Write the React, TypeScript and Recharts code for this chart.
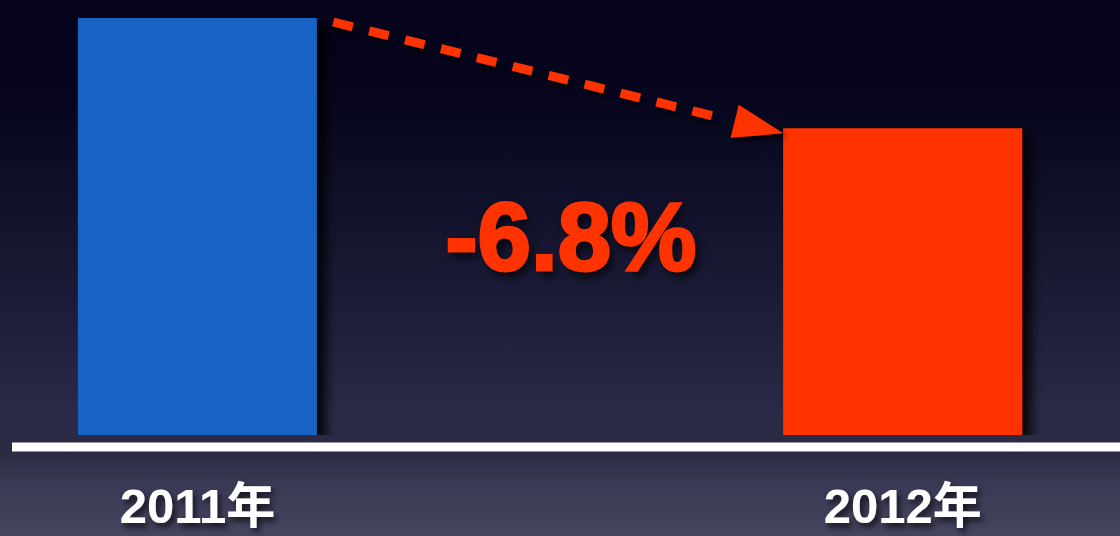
import React from 'react';
import { BarChart, Bar, Cell, XAxis, YAxis, ReferenceLine } from 'recharts';

// values; the axis is truncated, bars start at AXIS_BASE
const YEARS = ['2011年', '2012年'];
const POSITIONS = [1, 2];
const VALUES = [100, 93.2];
const COLORS = ['#1463c3', '#ff3300'];
const AXIS_BASE = 74.3;

const WIDTH = 1120;
const HEIGHT = 536;
const X_DOMAIN: [number, number] = [0.737, 2.308];

const data = YEARS.map((year, i) => ({ year, x: POSITIONS[i], value: VALUES[i] }));

const change = ((VALUES[1] - VALUES[0]) / VALUES[0]) * 100;
const changeLabel = `${change.toFixed(1)}%`;

const FONT = '"Liberation Sans", Arial, "Noto Sans CJK JP", sans-serif';

function YearTick(props: any) {
  const { x, y, payload } = props;
  const idx = POSITIONS.indexOf(payload.value);
  return (
    <text
      x={x}
      y={y + 80}
      textAnchor="middle"
      fill="#ffffff"
      fontSize={49}
      fontWeight={700}
      fontFamily={FONT}
      filter="url(#textShadow)"
    >
      {YEARS[idx] ?? ''}
    </text>
  );
}

// white floor line, sits a bit under the bar bottoms and runs to the right edge
function Floor(props: any) {
  const { x1, y1 } = props;
  const y = y1 + 12;
  return <line x1={x1} y1={y} x2={WIDTH} y2={y} stroke="#ffffff" strokeWidth={9} />;
}

function DropArrow(props: any) {
  const { x1, y1, x2, y2 } = props;
  const sx = x1;
  const sy = y1 + 4;
  const ex = x2;
  const ey = y2 + 5;
  const len = Math.hypot(ex - sx, ey - sy);
  const ux = (ex - sx) / len;
  const uy = (ey - sy) / len;
  const head = 50;
  const half = 17;
  const bx = ex - ux * head;
  const by = ey - uy * head;
  const pts = [
    `${ex},${ey}`,
    `${bx - uy * half},${by + ux * half}`,
    `${bx + uy * half},${by - ux * half}`,
  ].join(' ');
  return (
    <g filter="url(#textShadow)">
      <line
        x1={sx}
        y1={sy}
        x2={bx - ux * 16}
        y2={by - uy * 16}
        stroke="#ff3300"
        strokeWidth={9}
        strokeDasharray="20 17"
      />
      <polygon points={pts} fill="#ff3300" />
    </g>
  );
}

export default function App() {
  const halfBar = 119.5 / 705;
  return (
    <div
      style={{
        position: 'relative',
        width: WIDTH,
        height: HEIGHT,
        overflow: 'hidden',
        background:
          'linear-gradient(180deg, #03021a 0%, #06051d 18%, #11112c 38%, #1d1d39 58%, #2b2b49 78%, #2a2a42 84%, #393955 90%, #45455f 100%)',
      }}
    >
      <style>{'body{margin:0}'}</style>
      <svg width={0} height={0} style={{ position: 'absolute' }}>
        <defs>
          <filter id="barShadow" x="-20%" y="-20%" width="140%" height="140%">
            <feDropShadow dx={9} dy={6} stdDeviation={6} floodColor="#000000" floodOpacity={0.9} />
          </filter>
          <filter id="textShadow" x="-20%" y="-30%" width="140%" height="160%">
            <feDropShadow dx={3} dy={4} stdDeviation={3} floodColor="#000000" floodOpacity={0.7} />
          </filter>
        </defs>
      </svg>
      <BarChart width={WIDTH} height={HEIGHT} data={data} margin={{ top: 18, right: 0, left: 12, bottom: 0 }}>
        <XAxis
          type="number"
          dataKey="x"
          domain={X_DOMAIN}
          ticks={POSITIONS}
          allowDataOverflow
          axisLine={false}
          tickLine={false}
          height={101}
          tick={<YearTick />}
        />
        <YAxis hide type="number" domain={[AXIS_BASE, VALUES[0]]} allowDataOverflow />
        <ReferenceLine y={AXIS_BASE} shape={<Floor />} />
        <Bar dataKey="value" barSize={239} isAnimationActive={false}>
          {data.map((d, i) => (
            <Cell key={d.year} fill={COLORS[i]} filter="url(#barShadow)" />
          ))}
        </Bar>
        <ReferenceLine
          segment={[
            { x: POSITIONS[0] + halfBar + 0.023, y: VALUES[0] },
            { x: POSITIONS[1] - halfBar, y: VALUES[1] },
          ]}
          shape={<DropArrow />}
        />
      </BarChart>
      <div
        style={{
          position: 'absolute',
          left: 271,
          top: 189,
          width: 600,
          textAlign: 'center',
          fontFamily: FONT,
          fontWeight: 700,
          fontSize: 96,
          lineHeight: '96px',
          color: '#ff3300',
          WebkitTextStroke: '3px #ff3300',
          textShadow: '4px 6px 8px rgba(0,0,0,0.75)',
        }}
      >
        {changeLabel}
      </div>
    </div>
  );
}
